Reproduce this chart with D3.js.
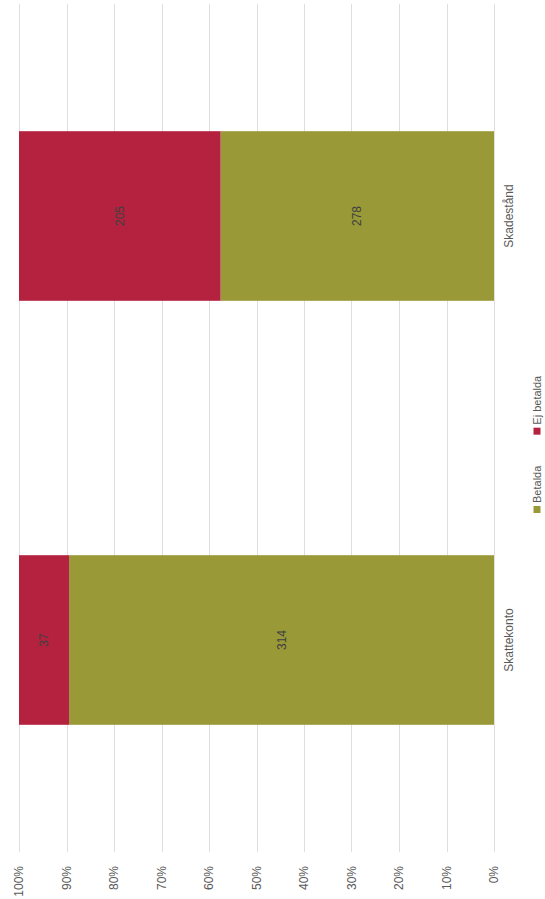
<!DOCTYPE html>
<html>
<head>
<meta charset="utf-8">
<script src="https://cdn.jsdelivr.net/npm/d3@7"></script>
<style>
  html, body { margin: 0; padding: 0; background: #fff; }
  svg { display: block; font-family: "Liberation Sans", Arial, sans-serif; }
</style>
</head>
<body>
<svg id="chart" width="545" height="899"></svg>
<script>
// Data
const categories = ["Skattekonto", "Skadestånd"];
const seriesNames = ["Betalda", "Ej betalda"];
const betalda = [314, 278];
const ejBetalda = [37, 205];
const tickValues = [0, 0.1, 0.2, 0.3, 0.4, 0.5, 0.6, 0.7, 0.8, 0.9, 1];
const colors = ["#999938", "#b5223f"];

const svg = d3.select("#chart");
// Chart is drawn in an unrotated 899x545 frame, then rotated -90deg
const W = 899, H = 545;
const g = svg.append("g").attr("transform", `translate(0,${W}) rotate(-90)`);

const x = d3.scaleBand().domain(categories).range([47, 895]).paddingInner(0.6).paddingOuter(0.3);
const y = d3.scaleLinear().domain([0, 1]).range([494, 19]);

// gridlines
g.append("g").selectAll("line").data(tickValues).join("line")
  .attr("x1", 47).attr("x2", 895)
  .attr("y1", d => Math.round(y(d)) + 0.5).attr("y2", d => Math.round(y(d)) + 0.5)
  .attr("stroke", "#dedede").attr("stroke-width", 1);

// y axis labels
const yAxis = d3.axisLeft(y).tickValues(tickValues).tickFormat(d3.format(".0%")).tickSize(0).tickPadding(0);
const ya = g.append("g").attr("transform", "translate(33,0)").call(yAxis);
ya.select(".domain").remove();
ya.selectAll("text").attr("fill", "#595959").attr("font-size", 12).attr("font-family", "Liberation Sans, Arial, sans-serif");

// stacked data
const rows = categories.map((c, i) => ({ cat: c, Betalda: betalda[i], "Ej betalda": ejBetalda[i] }));
const stack = d3.stack().keys(seriesNames).offset(d3.stackOffsetExpand);
const series = stack(rows);

series.forEach((s, si) => {
  const grp = g.append("g");
  grp.selectAll("rect").data(s).join("rect")
    .attr("x", d => x(d.data.cat))
    .attr("width", x.bandwidth())
    .attr("y", d => y(d[1]))
    .attr("height", d => y(d[0]) - y(d[1]))
    .attr("fill", colors[si]);
  grp.selectAll("text").data(s).join("text")
    .attr("x", d => x(d.data.cat) + x.bandwidth() / 2)
    .attr("y", d => (y(d[0]) + y(d[1])) / 2)
    .attr("text-anchor", "middle").attr("dominant-baseline", "central")
    .attr("fill", "#404040").attr("font-size", 12)
    .text(d => d.data[s.key]);
});

// category labels
const xAxis = d3.axisBottom(x).tickSize(0).tickPadding(0);
const xa = g.append("g").attr("transform", "translate(0,504)").call(xAxis);
xa.select(".domain").remove();
xa.selectAll("text").attr("fill", "#595959").attr("font-size", 12).attr("font-family", "Liberation Sans, Arial, sans-serif").attr("dy", "0.71em");

// legend
const legend = g.append("g").attr("transform", "translate(0,537)");
let lx = 386;
seriesNames.forEach((n, i) => {
  legend.append("rect").attr("x", lx).attr("y", -3.5).attr("width", 7).attr("height", 7).attr("fill", colors[i]);
  const t = legend.append("text").attr("x", lx + 10).attr("y", 0).attr("dominant-baseline", "central")
    .attr("fill", "#595959").attr("font-size", 11).text(n);
  lx += 10 + t.node().getComputedTextLength() + 31;
});
</script>
</body>
</html>
